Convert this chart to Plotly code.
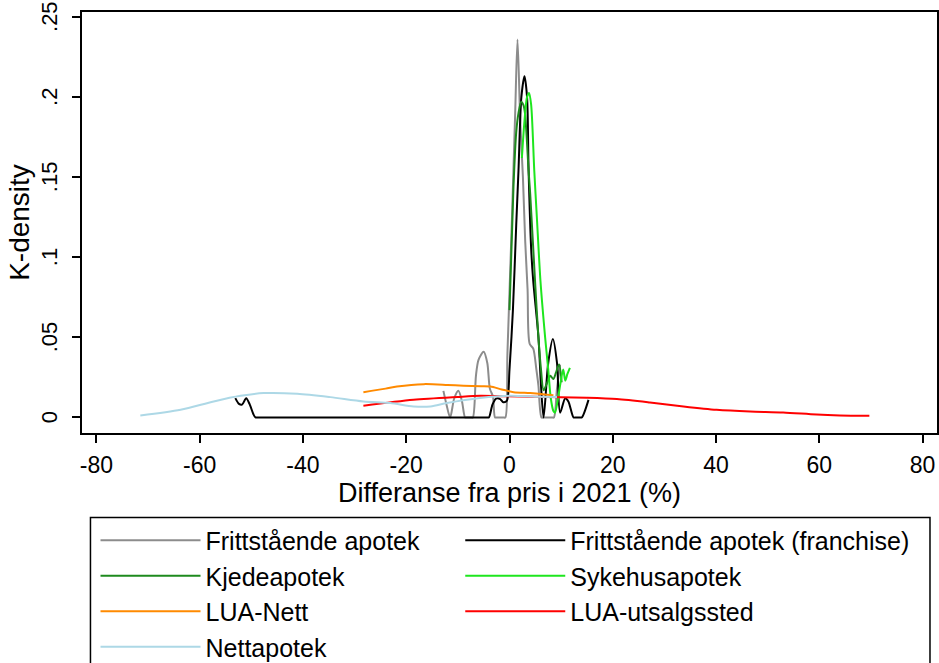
import plotly.graph_objects as go

# ---------------- data ----------------
x_fritt = [-12.8, -12.2, -11.5, -10.7, -9.9, -9.2, -8.6, -8.2, -7.5, -7.1, -6.5, -6.0, -5.0, -4.3, -3.8, -3.2, -2.8,
           -2.4, -1.2, -0.8, -0.4, 0.46, 1.1, 1.55, 2.07, 2.6, 3.04, 3.5, 3.9, 4.6, 5.2, 5.6, 6.2, 6.6, 8.2, 8.6, 9.2, 9.8]
y_fritt = [0.0166, 0.008, 0.0, 0.012, 0.0166, 0.010, 0.0, 0.0, 0.0, 0.0, 0.026, 0.036, 0.041, 0.034, 0.018, 0.013, 0.0,
           0.0, 0.0, 0.0, 0.04, 0.123, 0.19, 0.236, 0.186, 0.150, 0.110, 0.080, 0.046, 0.043, 0.030, 0.020, 0.0, 0.0, 0.0, 0.0, 0.018, 0.033]

x_franch = [-53.1, -52.4, -51.8, -51.0, -50.3, -49.6, -49.2, -48.8, -4.4, -4.0, -3.3, -2.6, -1.8, -1.2, -0.5, 0.0, 0.66,
            1.3, 1.74, 2.3, 2.9, 3.4, 3.7, 4.2, 4.6, 5.6, 6.1, 6.6, 7.5, 8.4, 9.2, 9.8, 10.8, 11.4, 12.4, 12.8, 13.6, 14.0, 15.3]
y_franch = [0.0121, 0.0085, 0.0080, 0.0120, 0.008, 0.002, 0.0, 0.0, 0.0, 0.0, 0.008, 0.0118, 0.0115, 0.0095, 0.0105, 0.03, 0.067,
            0.12, 0.154, 0.200, 0.213, 0.200, 0.154, 0.105, 0.085, 0.0505, 0.02, 0.0, 0.034, 0.049, 0.034, 0.003, 0.012, 0.010, 0.0, 0.0, 0.0, 0.0, 0.011]

x_kjede = [0.0, 0.77, 1.3, 1.74, 2.26, 2.7, 3.0, 3.7, 4.0, 5.0, 5.6, 6.1, 6.6, 7.2, 7.9, 8.5, 9.0, 9.6, 10.1]
y_kjede = [0.067, 0.144, 0.178, 0.190, 0.197, 0.195, 0.190, 0.154, 0.140, 0.082, 0.050, 0.030, 0.017, 0.021, 0.026, 0.024, 0.028, 0.033, 0.022]

x_sykehus = [2.4, 2.9, 3.4, 3.8, 4.2, 4.8, 5.3, 6.0, 6.9, 7.5, 8.0, 8.5, 8.8, 9.3, 9.8, 10.4, 10.8, 11.2, 11.7]
y_sykehus = [0.162, 0.185, 0.200, 0.2026, 0.195, 0.154, 0.125, 0.085, 0.050, 0.030, 0.012, 0.004, 0.003, 0.010, 0.020, 0.030, 0.023, 0.027, 0.031]

x_luanett = [-28.3, -24.0, -21.8, -16.6, -12.0, -8.9, -5.5, -3.7, -1.5, 0.8, 4.0, 6.5, 8.5]
y_luanett = [0.0158, 0.018, 0.0193, 0.0208, 0.0203, 0.0198, 0.0195, 0.0193, 0.0175, 0.0158, 0.0152, 0.0145, 0.0138]

x_luauts = [-28.3, -18.6, -10.0, -5.7, -1.8, 5.0, 15.0, 20.8, 27.2, 33.7, 40.1, 46.6, 53.0, 59.5, 64.0, 69.7]
y_luauts = [0.0073, 0.011, 0.0128, 0.0135, 0.0133, 0.013, 0.0123, 0.0115, 0.0094, 0.0069, 0.0048, 0.0037, 0.0031, 0.0018, 0.0013, 0.0011]

x_netta = [-71.5, -63.7, -57.3, -52.1, -47.6, -41.1, -34.7, -28.3, -23.1, -18.6, -15.3, -12.1, -5.7, 0.1, 5.0, 9.2]
y_netta = [0.0012, 0.0048, 0.010, 0.0135, 0.0152, 0.0148, 0.0127, 0.010, 0.009, 0.0069, 0.0069, 0.009, 0.0121, 0.0135, 0.013, 0.0127]

series_names = ["Frittstående apotek", "Frittstående apotek (franchise)", "Kjedeapotek", "Sykehusapotek",
                "LUA-Nett", "LUA-utsalgssted", "Nettapotek"]
series_x = [x_fritt, x_franch, x_kjede, x_sykehus, x_luanett, x_luauts, x_netta]
series_y = [y_fritt, y_franch, y_kjede, y_sykehus, y_luanett, y_luauts, y_netta]
colors = ["#8c8c8c", "#000000", "#1e8a1e", "#1ee61e", "#ff8a00", "#ff0000", "#add8e6"]
legend_column = ["legend", "legend2", "legend", "legend2", "legend", "legend2", "legend"]

x_tickvals = [-80, -60, -40, -20, 0, 20, 40, 60, 80]
x_ticktext = ["-80", "-60", "-40", "-20", "0", "20", "40", "60", "80"]
y_tickvals = [0, 0.05, 0.1, 0.15, 0.2, 0.25]
y_ticktext = ["0", ".05", ".1", ".15", ".2", ".25"]

FONT = "Liberation Sans, Arial, sans-serif"

fig = go.Figure()
for name, xs, ys, c, lg in zip(series_names, series_x, series_y, colors, legend_column):
    fig.add_trace(go.Scatter(x=xs, y=ys, mode="lines", name=name, legend=lg, legendgroup=name,
                             line=dict(color=c, width=2, shape="spline", smoothing=0.8)))

legend_common = dict(orientation="v", yanchor="top", xanchor="left", itemwidth=100,
                     font=dict(family=FONT, size=25, color="black"),
                     bgcolor="rgba(0,0,0,0)", borderwidth=0, traceorder="grouped", tracegroupgap=0)

fig.update_layout(
    width=939, height=663,
    margin=dict(l=82, r=2, t=12, b=230, autoexpand=False),
    paper_bgcolor="white", plot_bgcolor="white",
    font=dict(family=FONT, color="black", size=23),
    showlegend=True,
    legend=dict(x=0.0158, y=-0.2009, **legend_common),
    legend2=dict(x=0.4424, y=-0.2009, **legend_common),
    shapes=[dict(type="rect", xref="paper", yref="paper", x0=0.0099, x1=0.9918, y0=-0.2009, y1=-0.70,
                 line=dict(color="black", width=1.5), fillcolor="rgba(0,0,0,0)", layer="below")],
)

fig.update_xaxes(range=[-82.8, 82.8], tickvals=x_tickvals, ticktext=x_ticktext,
                 showgrid=False, zeroline=False, showline=True, linecolor="black", linewidth=1.5,
                 mirror=True, ticks="outside", ticklen=8, tickwidth=1.5, tickcolor="black",
                 tickfont=dict(size=23), ticklabelstandoff=3,
                 title=dict(text="Differanse fra pris i 2021 (%)", font=dict(size=27), standoff=3))
fig.update_yaxes(range=[-0.0097, 0.2531], tickvals=y_tickvals, ticktext=y_ticktext, tickangle=-90,
                 showgrid=False, zeroline=False, showline=True, linecolor="black", linewidth=1.5,
                 mirror=True, ticks="outside", ticklen=8, tickwidth=1.5, tickcolor="black",
                 tickfont=dict(size=22), ticklabelstandoff=6, ticklabelshift=3, ticklabeloverflow="allow",
                 title=dict(text="K-density", font=dict(size=28), standoff=0))

fig.write_html("out.html", config={"displayModeBar": False},
               post_script="document.body.style.margin='0';document.body.style.overflow='hidden';")
